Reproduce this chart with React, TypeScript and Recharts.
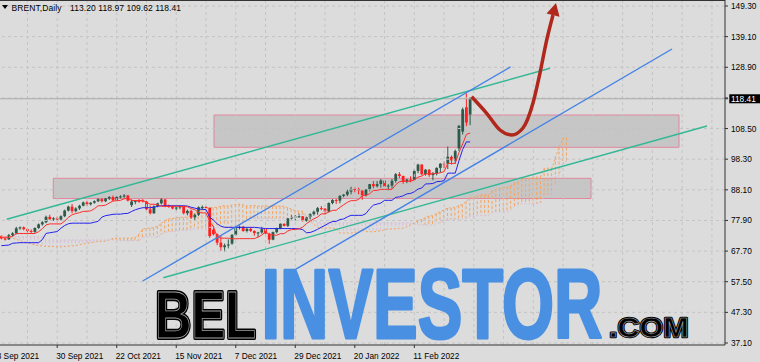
import React from 'react';
import { ComposedChart, Bar, Line, XAxis, YAxis, ReferenceLine, ReferenceArea } from 'recharts';

// ---------- data ----------
const xTickIdx = [-1, 15, 31, 47, 63, 79, 95, 111];
const xTickLabels = ['8 Sep 2021', '30 Sep 2021', '22 Oct 2021', '15 Nov 2021', '7 Dec 2021', '29 Dec 2021', '20 Jan 2022', '11 Feb 2022'];
const yTicks = [149.3, 139.1, 128.9, 118.7, 108.5, 98.3, 88.1, 77.9, 67.7, 57.5, 47.3, 37.1];
const lastPrice = 118.41;
const symbolTitle = 'BRENT,Daily';
const ohlcTitle = '113.20 118.97 109.62 118.41';

const opens = [72.7,71.9,71.6,73.0,73.6,75.3,75.6,75.0,74.4,74.1,
75.4,76.6,77.3,79.1,78.3,78.6,78.2,79.3,81.2,82.5,
81.0,81.9,82.8,83.9,83.3,83.8,84.3,85.0,84.3,85.2,
85.7,84.6,85.7,85.9,86.2,83.0,84.2,84.4,84.6,84.2,
81.6,80.3,82.6,83.6,84.9,82.8,82.5,81.9,82.2,82.6,
80.3,81.1,78.9,79.8,82.0,82.4,82.1,74.8,73.3,70.5,
69.0,69.6,70.2,73.1,75.4,75.8,74.4,75.1,74.4,73.7,
73.9,75.0,73.5,71.5,74.0,75.3,76.8,76.1,78.6,78.9,
79.2,79.3,77.8,79.0,80.0,80.8,82.0,81.8,80.9,83.7,
84.7,84.5,86.1,86.5,87.5,88.4,88.3,87.9,86.3,88.2,
90.0,89.3,90.0,91.2,89.2,89.5,91.1,93.3,92.7,90.8,
91.5,91.4,94.4,96.5,93.3,94.8,93.0,93.5,95.4,96.8,
96.8,99.1,97.9,101.9,107.5,115.6,113.2];
const highs = [73.0,72.4,73.4,74.0,75.8,75.9,75.9,75.4,74.9,75.6,
76.9,77.7,79.5,79.8,79.0,79.2,79.6,81.5,82.8,83.4,
82.3,83.1,84.2,84.3,84.0,84.6,85.3,85.3,85.4,86.0,
86.2,86.0,86.3,86.7,86.4,84.9,84.7,85.0,85.0,84.4,
82.9,82.9,83.8,85.3,85.0,83.2,82.9,82.6,82.9,82.8,
81.5,81.5,80.2,82.6,82.9,82.7,82.2,76.0,73.6,72.9,
70.2,71.6,73.4,75.8,76.2,76.1,75.5,75.6,74.6,74.1,
75.8,75.2,73.8,74.2,75.5,76.9,76.9,78.7,79.6,79.7,
80.1,79.4,79.2,80.3,81.2,82.4,82.7,82.0,83.9,85.0,
85.1,86.3,86.7,88.1,89.1,89.1,88.8,88.1,88.3,90.0,
91.0,91.0,91.7,91.3,90.0,91.7,93.7,94.0,92.8,91.8,
92.6,95.0,96.8,96.6,95.0,95.0,94.0,95.6,97.0,97.5,
102.5,99.5,101.5,109.7,115.5,120.2,118.97];
const lows = [71.6,71.2,71.4,72.6,73.3,74.8,74.6,73.9,73.7,73.8,
75.1,76.2,77.0,78.1,77.8,77.6,77.9,79.0,80.9,80.3,
80.6,81.4,82.6,82.7,82.9,83.5,84.0,83.9,84.0,84.7,
84.3,84.4,85.2,85.4,84.2,82.4,83.3,83.8,83.9,81.3,
79.9,80.1,82.3,83.2,82.3,82.1,81.6,81.3,81.6,79.9,
79.6,78.4,77.9,79.4,81.4,81.9,72.1,72.9,69.7,67.8,
67.5,68.6,69.8,72.8,74.9,74.1,73.9,74.1,72.8,72.3,
73.5,72.9,70.1,71.3,73.6,75.0,75.9,75.7,78.2,77.9,
78.8,77.5,77.5,78.2,79.5,79.8,81.3,79.9,80.6,83.3,
83.4,83.6,85.6,86.0,86.6,87.2,86.6,84.8,85.9,87.6,
88.6,88.9,88.8,88.7,87.9,88.5,90.5,92.0,90.1,90.3,
90.6,90.8,93.6,92.9,92.8,92.4,91.3,92.9,93.8,95.3,
95.0,96.5,96.8,101.0,106.5,109.3,109.62];
const closes = [71.9,71.5,73.0,73.6,75.3,75.6,75.0,74.4,74.1,75.4,
76.6,77.3,79.1,78.3,78.6,78.2,79.3,81.2,82.5,81.0,
81.9,82.8,83.9,83.3,83.8,84.3,85.0,84.3,85.2,85.7,
84.6,85.7,85.9,86.2,84.5,84.2,84.4,84.1,84.2,81.6,
80.3,82.6,83.6,84.9,82.8,82.5,81.9,82.2,82.6,80.3,
81.1,78.9,79.8,82.3,82.4,82.1,72.7,73.3,70.5,69.0,
69.6,69.9,73.1,75.4,75.8,74.4,75.1,74.4,73.7,73.9,
75.0,73.5,71.5,74.0,75.3,76.8,76.1,78.6,78.9,79.2,
79.3,77.8,79.0,80.0,80.8,82.0,81.8,80.9,83.7,84.7,
84.5,86.1,86.5,87.5,88.4,88.3,87.9,86.3,88.2,90.0,
89.3,90.0,91.2,89.2,89.5,91.1,93.3,92.7,90.8,91.5,
91.4,94.4,96.5,93.3,94.8,93.0,93.5,95.4,96.8,96.5,
99.1,97.9,101.0,109.4,114.9,110.5,118.41];

const tenkan = [72.3,72.3,72.3,72.6,73.5,73.55,73.55,73.55,73.55,73.55,
74.15,75.15,76.4,76.75,76.75,76.75,76.75,77.65,78.95,79.8,
80.2,80.5,80.9,80.95,81.1,81.8,82.8,82.8,83.0,83.7,
84.4,84.45,84.6,85.1,85.3,84.55,84.55,84.55,84.55,84.0,
83.3,83.3,83.15,82.6,82.6,82.6,82.6,82.6,82.6,82.6,
82.45,81.85,81.45,80.55,80.4,80.4,77.5,75.8,72.5,72.0,
72.0,72.0,71.8,71.8,71.85,71.85,71.85,71.85,71.85,72.4,
73.0,74.25,73.15,73.1,72.95,73.5,73.5,74.4,74.85,74.9,
75.1,75.7,76.85,77.65,78.45,79.05,80.1,80.1,80.7,81.25,
81.3,82.25,83.1,83.95,84.5,84.5,84.85,86.2,86.25,86.8,
87.9,87.9,88.25,88.25,88.25,88.25,89.8,90.8,90.95,90.95,
90.95,91.45,92.35,92.65,93.45,93.45,93.45,93.55,93.8,94.15,
96.9,96.9,96.9,100.5,103.4,106.55,107.0];
const kijun = [69.5,69.6,69.7,70.3,70.4,70.5,70.5,70.5,70.5,70.5,70.5,
71.5,73.6,73.8,74.0,74.2,75.3,76.2,76.8,77.0,77.0,
77.0,77.0,77.0,77.0,77.3,77.6,79.0,79.5,79.7,79.95,
80.0,80.0,80.2,80.25,80.9,81.45,81.85,82.15,82.15,82.15,
82.3,82.6,82.8,82.8,82.8,82.8,82.8,82.8,82.8,82.7,
82.3,82.0,81.7,81.6,81.5,79.0,78.0,76.8,76.0,75.6,
75.6,75.6,75.6,75.6,75.6,75.6,75.6,75.6,75.5,75.3,
75.2,75.2,75.2,75.2,75.2,75.2,75.2,75.2,75.2,75.1,
74.85,73.8,73.9,74.35,74.95,75.65,76.25,77.0,77.55,77.6,
78.2,78.4,79.1,79.6,79.6,79.6,79.6,80.2,81.8,83.0,
83.35,83.7,84.6,84.6,84.6,85.6,85.75,86.1,86.75,86.9,
87.45,88.35,88.7,90.05,90.1,90.2,90.8,90.9,91.15,93.65,
93.65,93.65,97.8,101.55,104.05,104.05];
const spanA = [72.8,72.6,72.3,72.0,71.6,71.2,70.8,70.4,70.1,69.8,
69.5,69.4,69.3,69.2,69.2,69.1,69.1,69.2,69.3,69.4,
69.6,69.8,70.0,70.3,70.5,70.7,
70.9,70.95,71.0,71.45,71.95,72.0,72.0,72.0,72.0,72.0,
72.3,73.3,75.0,75.3,75.4,75.5,76.0,76.9,77.9,78.4,
78.6,78.75,78.95,79.0,79.05,79.55,80.2,80.9,81.25,81.7,
82.2,82.2,82.3,82.65,82.8,82.7,83.0,83.2,83.35,83.1,
82.7,82.8,82.9,82.7,82.7,82.7,82.7,82.7,82.7,82.7,
82.6,82.1,81.7,81.1,81.0,80.95,78.25,77.75,76.55,75.7,
75.4,75.4,75.4,75.35,75.2,73.7,73.7,73.7,73.7,73.95,
74.15,74.7,74.2,74.15,74.1,74.35,74.35,74.8,75.0,75.05,
75.1,75.3,75.3,75.8,76.4,77.0,77.9,78.2,78.85,79.4,
79.45,80.2,80.75,81.5,82.05,82.05,82.2,82.9,83.2,84.3,
85.45,85.6,86.0,86.4,86.4,86.4,87.7,88.3,88.5,88.85,
88.9,89.45,90.35,90.7,91.75,91.8,91.8,92.2,92.35,92.65,
95.3,95.3,95.3,99.15,102.5,105.3,105.5];
const spanB = [72.5,72.5,72.5,72.5,72.5,72.5,72.5,72.5,72.5,72.5,72.5,72.5,
71.4,71.4,71.4,71.4,71.4,71.4,71.4,71.4,71.4,71.4,71.4,71.4,71.4,71.4,
71.4,71.4,71.4,71.4,71.4,71.4,
71.15,71.15,71.15,71.15,71.15,71.15,
72.25,72.4,72.4,72.4,72.4,73.25,73.9,74.2,74.2,74.2,
74.6,74.65,74.65,74.8,75.15,75.15,75.15,75.5,75.6,75.6,
75.65,75.85,75.85,75.85,75.85,75.85,76.1,77.1,78.3,78.6,
78.6,78.6,78.6,78.6,78.6,78.6,78.6,78.6,78.6,78.95,
78.95,79.05,79.65,80.0,79.4,79.4,78.2,77.25,77.1,77.1,
77.1,77.1,77.1,77.1,77.1,77.1,77.1,77.1,77.1,77.1,
77.1,77.1,77.1,77.1,77.1,77.1,77.1,77.1,77.1,77.1,
77.1,77.1,77.1,76.95,76.4,76.4,76.4,76.4,76.4,76.9,
77.1,77.8,78.3,78.3,78.3,78.3,78.3,78.75,79.25,79.25,
79.6,79.6,79.6,79.6,80.6,80.75,80.75,80.75,80.75,81.25,
82.7,83.3,83.45,83.45,83.45,83.45,83.55,83.8,86.3,86.3,
86.3,89.9,93.4,96.9,97.6];

// trend channel lines (bar index, price)
const greenUpper = [[1.42, 78.29], [147.47, 128.56]];
const greenLower = [[43.52, 58.84], [189.68, 109.35]];
const blueUpper = [[37.98, 57.74], [136.85, 129.0]];
const blueLower = [[77.58, 60.54], [180.27, 134.98]];
// zones [x1, x2, y1, y2]
const upperZone = [57.15, 182.15, 102.26, 113.01];
const lowerZone = [13.95, 158.5, 85.21, 91.93];
// projected path
const arrowX = [126.4, 130.45, 134.03, 137.18, 140.21, 142.9, 144.78, 146.59, 148.28];
const arrowV = [119.1, 113.58, 108.02, 106.36, 108.68, 117.0, 126.99, 137.98, 146.3];

const gridXIdx = [7,15,23,31,39,47,55,63,71,79,87,95,103,111,119,127,135,143,151,159,167,175,183,191];

// ---------- styles ----------
const BG = '#dcdcdc';
const GRID = '#c4c4c4';
const BULL = '#2c5b49';
const BEAR = '#ff1f1f';
const SANDY = '#f4a460';
const THISTLE = '#d8bfd8';
const TEAL = '#33b895';
const BLUE = '#4382e6';
const ARROW = '#b0281b';
const FONT = '"Liberation Sans", Arial, sans-serif';
const AX_FS = 8.3;

const rows = spanA.map((a, i) => ({
  x: i,
  o: i < opens.length ? opens[i] : undefined,
  h: i < highs.length ? highs[i] : undefined,
  l: i < lows.length ? lows[i] : undefined,
  c: i < closes.length ? closes[i] : undefined,
  t: i < tenkan.length ? tenkan[i] : undefined,
  k: i < kijun.length ? kijun[i] : undefined,
  a,
  b: spanB[i],
}));
const arrowData = arrowX.map((x, i) => ({ x, v: arrowV[i] }));

const Candle = (props: any) => {
  const { x, y, width, height, payload } = props;
  if (!payload || payload.o == null || y == null || isNaN(y)) return <g />;
  const { o, h, l, c } = payload;
  const top = Math.min(y, y + height);
  const bot = Math.max(y, y + height);
  const span = h - l || 1;
  const py = (v: number) => top + ((h - v) / span) * (bot - top);
  const cx = x + width / 2;
  const col = c >= o ? BULL : BEAR;
  const yo = py(o);
  const yc = py(c);
  const bt = Math.min(yo, yc);
  const bh = Math.max(Math.abs(yo - yc), 1);
  return (
    <g>
      <line x1={cx} x2={cx} y1={top} y2={bot} stroke={col} strokeWidth={1} />
      <rect x={cx - 1.4} y={bt} width={2.8} height={bh} fill={col} />
    </g>
  );
};

const Hatch = (props: any) => {
  const { x, y, width, height, payload } = props;
  if (!payload || payload.a == null || y == null || isNaN(y)) return <g />;
  const cx = x + width / 2;
  const top = Math.min(y, y + height);
  const bot = Math.max(y, y + height);
  const col = payload.a >= payload.b ? SANDY : THISTLE;
  return <line x1={cx} x2={cx} y1={top} y2={bot} stroke={col} strokeWidth={1} strokeDasharray="3 2" />;
};

const XTick = (props: any) => {
  const { x, y, index } = props;
  return (
    <text x={x - 1} y={y + 10.5} fontSize={AX_FS} fontFamily={FONT} fill="#000" textAnchor="start">
      {xTickLabels[index]}
    </text>
  );
};

const YTick = (props: any) => {
  const { x, y, payload } = props;
  const v = payload.value;
  if (v === lastPrice) {
    return (
      <g>
        <rect x={x - 1.7} y={y - 4.5} width={31} height={9} fill="#000" />
        <text x={x} y={y + 3} fontSize={AX_FS} fontFamily={FONT} fill="#fff">{v.toFixed(2)}</text>
      </g>
    );
  }
  if (v === 118.7) return <g />;
  return (
    <text x={x} y={y + 3} fontSize={AX_FS} fontFamily={FONT} fill="#000">{v.toFixed(2)}</text>
  );
};

const ArrowHead = (p: any) => {
  const { cx, cy, index } = p;
  if (index !== arrowX.length - 1 || cx == null) return <g key={'ah' + index} />;
  return (
    <polygon
      key={'ah' + index}
      points={`${cx + 3},${cy - 12} ${cx + 6.5},${cy + 1.8} ${cx - 6.5},${cy - 1.6}`}
      fill={ARROW}
    />
  );
};

export default function App() {
  return (
    <div style={{ position: 'absolute', left: 0, top: 0, width: 760, height: 362, background: BG, overflow: 'hidden' }}>
      <ComposedChart width={760} height={362} data={rows} margin={{ top: 0, right: 0, bottom: 0, left: 0 }}>
        <XAxis
          dataKey="x"
          type="number"
          domain={[-0.3763, 194.516]}
          allowDataOverflow
          ticks={xTickIdx}
          interval={0}
          height={17}
          tickSize={3}
          tickMargin={0}
          tick={<XTick />}
          axisLine={{ stroke: '#333' }}
          tickLine={{ stroke: '#333' }}
        />
        <XAxis xAxisId="cloud" dataKey="x" type="number" domain={[-0.3763, 194.516]} allowDataOverflow hide />
        <YAxis
          orientation="right"
          type="number"
          domain={[36.434, 151.298]}
          allowDataOverflow
          ticks={[...yTicks, lastPrice]}
          interval={0}
          width={35}
          tickSize={3}
          tickMargin={3}
          tick={<YTick />}
          axisLine={{ stroke: '#333' }}
          tickLine={{ stroke: '#333' }}
        />
        {yTicks.map((v) => (
          <ReferenceLine key={'gy' + v} y={v} stroke={GRID} strokeDasharray="3 3" />
        ))}
        {gridXIdx.map((v) => (
          <ReferenceLine key={'gx' + v} x={v} stroke={GRID} strokeDasharray="3 3" />
        ))}
        <ReferenceLine y={lastPrice} stroke="#a9a9a9" />
        <Bar xAxisId="cloud" dataKey={(d: any) => [Math.min(d.a, d.b), Math.max(d.a, d.b)]} barSize={3} shape={<Hatch />} isAnimationActive={false} />
        <Line dataKey="a" stroke={SANDY} strokeDasharray="2 2" dot={false} activeDot={false} strokeWidth={1} isAnimationActive={false} />
        <Line dataKey="b" stroke={THISTLE} strokeDasharray="2 2" dot={false} activeDot={false} strokeWidth={1} isAnimationActive={false} />
        <Line dataKey="k" stroke="#2222ee" dot={false} activeDot={false} strokeWidth={1} isAnimationActive={false} />
        <Line dataKey="t" stroke="#ff2d2d" dot={false} activeDot={false} strokeWidth={1} isAnimationActive={false} />
        <Bar dataKey={(d: any) => (d.o == null ? null : [d.l, d.h])} barSize={3} shape={<Candle />} isAnimationActive={false} />
        <ReferenceLine segment={[{ x: greenUpper[0][0], y: greenUpper[0][1] }, { x: greenUpper[1][0], y: greenUpper[1][1] }]} stroke={TEAL} strokeWidth={1.4} />
        <ReferenceLine segment={[{ x: greenLower[0][0], y: greenLower[0][1] }, { x: greenLower[1][0], y: greenLower[1][1] }]} stroke={TEAL} strokeWidth={1.4} />
        <ReferenceLine segment={[{ x: blueUpper[0][0], y: blueUpper[0][1] }, { x: blueUpper[1][0], y: blueUpper[1][1] }]} stroke={BLUE} strokeWidth={1.4} />
        <ReferenceLine segment={[{ x: blueLower[0][0], y: blueLower[0][1] }, { x: blueLower[1][0], y: blueLower[1][1] }]} stroke={BLUE} strokeWidth={1.4} />
        <ReferenceArea x1={upperZone[0]} x2={upperZone[1]} y1={upperZone[2]} y2={upperZone[3]} fill="#a8a8a8" fillOpacity={0.42} stroke="#e0879d" strokeWidth={1} />
        <ReferenceArea x1={lowerZone[0]} x2={lowerZone[1]} y1={lowerZone[2]} y2={lowerZone[3]} fill="#a8a8a8" fillOpacity={0.42} stroke="#e0879d" strokeWidth={1} />
        <Line data={arrowData} dataKey="v" type="monotone" stroke={ARROW} strokeWidth={3.5} dot={ArrowHead} activeDot={false} isAnimationActive={false} />
      </ComposedChart>
      <svg width={760} height={362} style={{ position: 'absolute', left: 0, top: 0, pointerEvents: 'none' }}>
        <defs>
          <text id="wmBel" x={0} y={0} fontSize={66} fontFamily={FONT} fontWeight="bold">BEL</text>
          <text id="wmInv" x={0} y={0} fontSize={98} fontFamily={FONT} fontWeight="bold">INVESTOR</text>
          <text id="wmCom" x={0} y={0} fontSize={28} fontFamily={FONT} fontWeight="bold">.COM</text>
        </defs>
        <line x1={0} x2={725} y1={0.5} y2={0.5} stroke="#333" strokeWidth={1} />
        <polygon points="2,5 8,5 5,9" fill="#000" />
        <text x={11.5} y={10.8} fontSize={8.5} fontFamily={FONT} fill="#000" textLength={50} lengthAdjust="spacing">{symbolTitle}</text>
        <text x={70} y={10.8} fontSize={8.5} fontFamily={FONT} fill="#000" textLength={111} lengthAdjust="spacing">{ohlcTitle}</text>
        <g transform="translate(155,338) scale(0.765,1)">
          <use href="#wmBel" fill="#000" stroke="#000" strokeWidth={4} strokeLinejoin="round" />
          <use href="#wmBel" fill="none" stroke="#a0a0a0" strokeWidth={0.8} />
        </g>
        <g transform="translate(261.5,337.5) scale(0.683,1)">
          <use href="#wmInv" fill="#4a90e2" stroke="#4a90e2" strokeWidth={3} strokeLinejoin="round" />
        </g>
        <g transform="translate(609,336.8) scale(1.09,1)">
          <use href="#wmCom" fill="#000" stroke="#000" strokeWidth={2.5} strokeLinejoin="round" />
          <use href="#wmCom" fill="none" stroke="#a0a0a0" strokeWidth={0.6} />
        </g>
      </svg>
    </div>
  );
}
